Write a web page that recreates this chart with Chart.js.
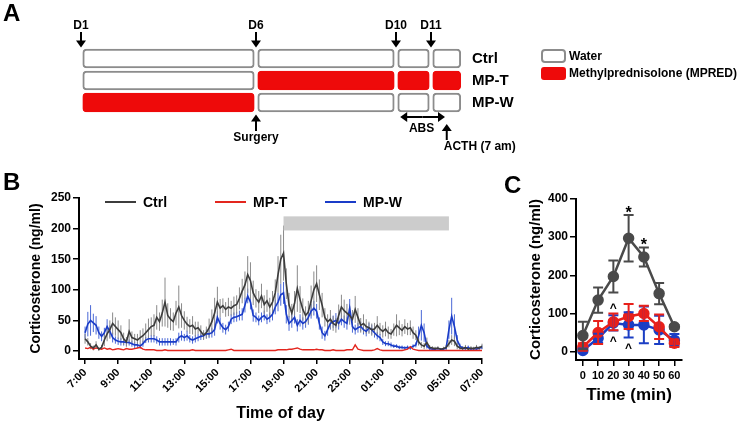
<!DOCTYPE html>
<html>
<head>
<meta charset="utf-8">
<script src="https://cdn.jsdelivr.net/npm/chart.js@4.4.0/dist/chart.umd.min.js"></script>
<style>
body { margin: 0; background: #fff; }
#page { position: relative; width: 738px; height: 423px; font-family: "Liberation Sans", Arial, sans-serif; overflow: hidden; }
.box { position: absolute; }
.letter { position: absolute; font-weight: bold; font-size: 24px; line-height: 24px; color: #000; }
</style>
</head>
<body>
<div id="page">
  <div class="box" style="left:0;top:0;width:738px;height:160px"><canvas id="chartA"></canvas></div>
  <div class="box" style="left:0;top:160px;width:520px;height:263px"><canvas id="chartB"></canvas></div>
  <div class="box" style="left:520px;top:160px;width:218px;height:263px"><canvas id="chartC"></canvas></div>
  <div class="letter" style="left:3px;top:1px">A</div>
  <div class="letter" style="left:3px;top:170px">B</div>
  <div class="letter" style="left:504px;top:173px">C</div>
</div>
<script>
// ---------- panel A : treatment schedule ----------
const groups = ['Ctrl', 'MP-T', 'MP-W'];
const dayMarks = [1, 6, 10, 11];
const dayLabels = ['D1', 'D6', 'D10', 'D11'];
const segStart = [1, 6, 10, 11];
const segEnd = [6, 10, 11, 11.9];
// W = water, M = methylprednisolone, one entry per segment
const ctrlPlan = ['W', 'W', 'W', 'W'];
const mptPlan = ['W', 'M', 'M', 'M'];
const mpwPlan = ['M', 'W', 'W', 'W'];
const surgeryDay = 6;
const absFrom = 10.12, absTo = 11.4;
const acthDay = 11.45;

// ---------- panel B : 24 h corticosterone, one sample every 10 min from 7:00 ----------
const sampleStep = 10;
const timeTicks = [0, 120, 240, 360, 480, 600, 720, 840, 960, 1080, 1200, 1320, 1440];
const timeLabels = ['7:00', '9:00', '11:00', '13:00', '15:00', '17:00', '19:00',
  '21:00', '23:00', '01:00', '03:00', '05:00', '07:00'];
const yTicksB = [0, 50, 100, 150, 200, 250];
const nightStart = 720, nightEnd = 1320;

const ctrlB = [
  20, 15, 8, 5, 10, 3, 6, 18, 28, 35, 45, 40,
  35, 30, 20, 15, 32, 22, 20, 18, 22, 25, 30, 35,
  40, 42, 55, 48, 62, 80, 58, 52, 48, 62, 72, 58,
  50, 44, 40, 42, 36, 38, 32, 26, 30, 38, 48, 62,
  80, 70, 74, 68, 72, 70, 74, 76, 86, 98, 108, 125,
  115, 95, 86, 80, 90, 76, 82, 72, 80, 95, 125, 150,
  160, 110, 75, 62, 78, 102, 84, 68, 58, 64, 82, 100,
  110, 92, 75, 55, 48, 52, 45, 42, 58, 72, 66, 62,
  58, 52, 68, 55, 42, 45, 40, 38, 35, 36, 42, 36,
  32, 36, 30, 28, 35, 42, 38, 34, 40, 36, 38, 30,
  26, 15, 10, 8, 14, 6, 5, 4, 5, 3, 4, 6,
  12, 18, 16, 8, 5, 4, 6, 3, 5, 4, 6, 5,
  8
];
const ctrlErrB = [
  8, 6, 5, 4, 6, 3, 4, 10, 12, 15, 18, 15,
  15, 12, 10, 8, 20, 10, 8, 10, 12, 12, 15, 18,
  15, 18, 20, 15, 22, 40, 20, 18, 15, 20, 35, 20,
  15, 12, 12, 15, 12, 10, 10, 8, 10, 15, 20, 25,
  25, 15, 12, 12, 15, 12, 15, 15, 18, 20, 22, 30,
  30, 20, 15, 18, 20, 15, 18, 15, 18, 22, 30, 40,
  45, 25, 20, 15, 20, 38, 22, 18, 15, 18, 25, 30,
  30, 25, 20, 15, 12, 15, 12, 12, 18, 20, 18, 15,
  15, 15, 22, 15, 12, 15, 12, 10, 10, 10, 15, 10,
  10, 12, 10, 8, 10, 18, 12, 10, 12, 10, 12, 10,
  8, 6, 5, 5, 8, 4, 3, 3, 3, 2, 3, 4,
  6, 8, 8, 5, 3, 3, 4, 2, 3, 3, 4, 3,
  4
];
const mptB = [
  5, 4, 6, 3, 5, 4, 3, 5, 3, 4, 2, 3,
  4, 3, 2, 4, 3, 3, 4, 5, 6, 3, 2, 2,
  2, 2, 1, 1, 1, 2, 1, 1, 1, 1, 1, 1,
  1, 1, 1, 2, 1, 1, 1, 1, 1, 1, 1, 1,
  1, 1, 1, 1, 2, 3, 1, 1, 1, 1, 1, 1,
  1, 1, 1, 1, 1, 1, 1, 1, 1, 1, 2, 2,
  2, 2, 3, 3, 4, 5, 3, 2, 2, 2, 2, 2,
  3, 2, 2, 1, 1, 1, 2, 1, 1, 1, 1, 2,
  2, 2, 10, 3, 2, 1, 1, 1, 1, 2, 4, 2,
  1, 1, 1, 1, 1, 1, 1, 1, 2, 3, 7, 3,
  2, 1, 1, 1, 1, 1, 1, 1, 1, 1, 1, 1,
  1, 1, 1, 1, 1, 1, 1, 1, 1, 1, 1, 1,
  1
];
const mpwB = [
  30, 44, 50, 46, 42, 30, 24, 30, 40, 32, 22, 18,
  16, 15, 15, 14, 14, 12, 10, 10, 8, 12, 18, 20,
  20, 20, 18, 15, 15, 15, 15, 15, 15, 15, 22, 25,
  22, 25, 20, 18, 20, 22, 24, 25, 28, 28, 30, 35,
  55, 45, 38, 35, 40, 52, 55, 56, 58, 60, 75, 90,
  80, 58, 55, 50, 55, 58, 52, 55, 60, 72, 80, 92,
  95, 60, 45, 50, 55, 42, 50, 45, 48, 55, 65, 70,
  65, 45, 30, 25, 35, 45, 48, 50, 45, 52, 48, 45,
  70, 40, 35, 38, 40, 35, 32, 38, 35, 30, 25, 22,
  15, 12, 12, 10, 8, 8, 6, 6, 5, 6, 5, 8,
  10, 25, 42, 30, 8, 4, 3, 3, 4, 3, 3, 5,
  35, 57, 40, 18, 8, 5, 4, 6, 3, 4, 3, 5,
  6
];
const mpwErrB = [
  10, 20, 25, 15, 15, 10, 8, 8, 12, 10, 8, 6,
  6, 6, 6, 6, 5, 5, 5, 5, 4, 5, 5, 6,
  6, 6, 6, 6, 6, 6, 6, 6, 5, 6, 8, 8,
  6, 8, 6, 6, 6, 6, 6, 6, 7, 7, 8, 10,
  10, 10, 8, 8, 8, 8, 8, 8, 8, 10, 12, 12,
  12, 10, 8, 8, 8, 8, 8, 8, 10, 12, 15, 18,
  18, 15, 12, 12, 10, 10, 10, 10, 10, 12, 12, 12,
  12, 10, 10, 8, 10, 10, 10, 12, 10, 10, 10, 10,
  15, 10, 8, 8, 8, 8, 8, 8, 8, 8, 6, 6,
  5, 4, 4, 4, 3, 3, 3, 3, 3, 3, 3, 3,
  4, 15, 25, 15, 4, 2, 2, 2, 2, 2, 2, 3,
  15, 30, 20, 8, 4, 3, 2, 3, 2, 2, 2, 3,
  3
];

// ---------- panel C : ACTH test ----------
const minutesC = [0, 10, 20, 30, 40, 50, 60];
const yTicksC = [0, 100, 200, 300, 400];
const ctrlC = [42, 135, 197, 297, 248, 152, 65];
const ctrlErrC = [36, 33, 42, 61, 25, 28, 5];
const mptC = [12, 50, 78, 92, 100, 65, 22];
const mptErrC = [10, 30, 22, 33, 20, 32, 10];
const mpwC = [3, 35, 75, 70, 70, 57, 30];
const mpwErrC = [5, 12, 20, 33, 48, 37, 16];
const starMarks = [[30, 370], [40, 286]];
const caretMarks = [[20, 118], [20, 31], [30, 13]];

const RED = '#e8201a', BLUE = '#1b3ec4';
const FONT = '"Liberation Sans", Arial, sans-serif';
const bold = size => ({ family: FONT, size: size, weight: 'bold' });

Chart.defaults.font.family = FONT;
Chart.defaults.color = '#000';

function arrowHead(ctx, x, y, dx, dy) {
  // small filled triangle pointing along (dx, dy)
  const s = 5;
  ctx.beginPath();
  ctx.moveTo(x, y);
  ctx.lineTo(x - dx * s * 1.4 - dy * s, y - dy * s * 1.4 - dx * s);
  ctx.lineTo(x - dx * s * 1.4 + dy * s, y - dy * s * 1.4 + dx * s);
  ctx.closePath();
  ctx.fill();
}
function arrow(ctx, x1, y1, x2, y2) {
  const len = Math.hypot(x2 - x1, y2 - y1);
  const dx = (x2 - x1) / len, dy = (y2 - y1) / len;
  ctx.beginPath();
  ctx.moveTo(x1, y1);
  ctx.lineTo(x2 - dx * 5, y2 - dy * 5);
  ctx.stroke();
  arrowHead(ctx, x2, y2, dx, dy);
}
function roundBox(ctx, x, y, w, h, r) {
  ctx.beginPath();
  ctx.roundRect(x, y, w, h, r);
}

// ---------- chart A ----------
const plans = [ctrlPlan, mptPlan, mpwPlan];
const gapDays = 0.05;
const schedSets = segStart.map((s, k) => ({
  label: 'segment ' + (k + 1),
  data: groups.map(() => [s + gapDays, segEnd[k] - gapDays]),
  backgroundColor: plans.map(p => p[k] === 'M' ? '#ee0a0a' : '#ffffff'),
  borderColor: plans.map(p => p[k] === 'M' ? '#ee0a0a' : '#8c8c8c'),
  borderWidth: 2,
  borderRadius: 4,
  borderSkipped: false,
  barThickness: 19,
  grouped: false
}));

const annotateA = {
  id: 'annotateA',
  afterDraw(chart) {
    const { ctx, chartArea } = chart;
    const x = chart.scales.x;
    ctx.save();
    ctx.strokeStyle = '#000';
    ctx.fillStyle = '#000';
    ctx.lineWidth = 2;
    dayMarks.forEach(d => arrow(ctx, x.getPixelForValue(d), 32, x.getPixelForValue(d), chartArea.top));
    // surgery
    const xs = x.getPixelForValue(surgeryDay);
    arrow(ctx, xs, 131, xs, chartArea.bottom + 1);
    ctx.font = 'bold 12px ' + FONT;
    ctx.textAlign = 'center';
    ctx.textBaseline = 'middle';
    ctx.fillText('Surgery', xs, 138);
    // ABS double arrow
    const xa = x.getPixelForValue(absFrom), xb = x.getPixelForValue(absTo);
    const xm = (xa + xb) / 2;
    arrow(ctx, xm, 117, xa, 117);
    arrow(ctx, xm, 117, xb, 117);
    ctx.fillText('ABS', xm - 1, 129);
    // ACTH
    const xt = x.getPixelForValue(acthDay);
    arrow(ctx, xt, 140, xt, 124);
    ctx.textAlign = 'left';
    ctx.fillText('ACTH (7 am)', xt - 3, 147);
    // legend
    ctx.lineWidth = 2;
    ctx.strokeStyle = '#8c8c8c';
    ctx.fillStyle = '#fff';
    roundBox(ctx, 542, 50, 23, 12, 3);
    ctx.fill();
    ctx.stroke();
    ctx.fillStyle = '#ee0a0a';
    roundBox(ctx, 541, 67, 25, 13, 3);
    ctx.fill();
    ctx.fillStyle = '#000';
    ctx.fillText('Water', 569, 56.5);
    ctx.fillText('Methylprednisolone (MPRED)', 569, 73.5);
    ctx.restore();
  }
};

new Chart(document.getElementById('chartA'), {
  type: 'bar',
  data: { labels: groups, datasets: schedSets },
  options: {
    indexAxis: 'y',
    responsive: true,
    maintainAspectRatio: false,
    animation: false,
    devicePixelRatio: 1,
    layout: { padding: { left: 60, top: 0, right: 0, bottom: 46.5 } },
    plugins: { legend: { display: false }, tooltip: { enabled: false } },
    scales: {
      x: {
        type: 'linear',
        position: 'top',
        min: 0.4,
        max: 12.0,
        grid: { display: false, drawTicks: false },
        border: { display: false },
        afterBuildTicks: s => { s.ticks = dayMarks.map(v => ({ value: v })); },
        afterFit: s => { s.height = 47.5; },
        ticks: { font: bold(12), color: '#000', padding: 15, callback: (v, i) => dayLabels[i] }
      },
      y: {
        position: 'right',
        grid: { display: false, drawTicks: false },
        border: { display: false },
        afterFit: s => { s.width = 272; },
        ticks: { font: bold(15), color: '#000', padding: 6 }
      }
    }
  },
  plugins: [annotateA]
});

// ---------- shared error bar plugin ----------
function drawErrors(chart, o) {
  const { ctx } = chart;
  const y = chart.scales.y;
  ctx.save();
  ctx.lineWidth = o.width;
  for (let i = chart.data.datasets.length - 1; i >= 0; i--) {
    const ds = chart.data.datasets[i];
    if (!ds.errors) continue;
    const meta = chart.getDatasetMeta(i);
    ctx.strokeStyle = ds.errorColor || ds.borderColor;
    meta.data.forEach((pt, j) => {
      const e = ds.errors[j];
      if (!e) return;
      const v = ds.data[j].y;
      const top = y.getPixelForValue(v + e);
      const bot = y.getPixelForValue(v - e);
      ctx.beginPath();
      ctx.moveTo(pt.x, top);
      ctx.lineTo(pt.x, bot);
      if (o.cap) {
        ctx.moveTo(pt.x - o.cap, top);
        ctx.lineTo(pt.x + o.cap, top);
        ctx.moveTo(pt.x - o.cap, bot);
        ctx.lineTo(pt.x + o.cap, bot);
      }
      ctx.stroke();
    });
  }
  ctx.restore();
}
const errorBars = {
  id: 'errorBars',
  beforeDatasetsDraw(chart, args, o) { if (o.behind) drawErrors(chart, o); },
  afterDatasetsDraw(chart, args, o) { if (!o.behind) drawErrors(chart, o); }
};

// ---------- chart B ----------
const toPoints = arr => arr.map((v, i) => ({ x: i * sampleStep, y: v }));

const extrasB = {
  id: 'extrasB',
  beforeDatasetsDraw(chart) {
    const { ctx } = chart;
    const { x, y } = chart.scales;
    ctx.save();
    ctx.fillStyle = '#cccccc';
    const x0 = x.getPixelForValue(nightStart), x1 = x.getPixelForValue(nightEnd);
    const y0 = y.getPixelForValue(220), y1 = y.getPixelForValue(197);
    ctx.fillRect(x0, y0, x1 - x0, y1 - y0);
    ctx.restore();
  },
  afterDraw(chart) {
    const { ctx } = chart;
    const legendX = [105, 215, 325];
    const legendY = 42;
    ctx.save();
    ctx.font = 'bold 14px ' + FONT;
    ctx.textBaseline = 'middle';
    chart.data.datasets.forEach((ds, i) => {
      ctx.strokeStyle = ds.borderColor;
      ctx.lineWidth = 2;
      ctx.beginPath();
      ctx.moveTo(legendX[i], legendY);
      ctx.lineTo(legendX[i] + 31, legendY);
      ctx.stroke();
      ctx.fillStyle = '#000';
      ctx.fillText(ds.label, legendX[i] + 38, legendY + 1);
    });
    ctx.restore();
  }
};

const axisGrid = len => ({ display: true, drawOnChartArea: false, drawTicks: true, tickLength: len, color: '#000', lineWidth: 1.5 });
const axisBorder = { display: true, color: '#000', width: 2 };

new Chart(document.getElementById('chartB'), {
  type: 'line',
  data: {
    datasets: [
      { label: 'Ctrl', data: toPoints(ctrlB), errors: ctrlErrB, borderColor: '#3c3c3c', errorColor: '#8a8a8a', borderWidth: 1.6 },
      { label: 'MP-T', data: toPoints(mptB), borderColor: '#e3261e', borderWidth: 1.4 },
      { label: 'MP-W', data: toPoints(mpwB), errors: mpwErrB, borderColor: '#1a3cc8', errorColor: '#4a68d6', borderWidth: 1.6 }
    ]
  },
  options: {
    responsive: true,
    maintainAspectRatio: false,
    animation: false,
    devicePixelRatio: 1,
    elements: { point: { radius: 0 }, line: { tension: 0 } },
    layout: { padding: { left: 28, top: 38, right: 38, bottom: 0 } },
    plugins: {
      legend: { display: false },
      tooltip: { enabled: false },
      errorBars: { behind: true, width: 1 }
    },
    scales: {
      x: {
        type: 'linear',
        min: -22,
        max: 1440,
        grid: axisGrid(5),
        border: axisBorder,
        afterBuildTicks: s => { s.ticks = timeTicks.map(v => ({ value: v })); },
        afterFit: s => { s.height = 64; },
        ticks: { font: bold(11), color: '#000', padding: 2, minRotation: 45, maxRotation: 45, autoSkip: false, callback: (v, i) => timeLabels[i] },
        title: { display: true, text: 'Time of day', font: bold(16), color: '#000', padding: 0 }
      },
      y: {
        min: -13,
        max: 250,
        grid: axisGrid(6),
        border: axisBorder,
        afterBuildTicks: s => { s.ticks = yTicksB.map(v => ({ value: v })); },
        afterFit: s => { s.width = 51; },
        ticks: { font: bold(12), color: '#000', padding: 2 },
        title: { display: true, text: 'Corticosterone (ng/ml)', font: bold(14), color: '#000', padding: 0 }
      }
    }
  },
  plugins: [errorBars, extrasB]
});

// ---------- chart C ----------
const toPointsC = arr => arr.map((v, i) => ({ x: minutesC[i], y: v }));
const marksC = {
  id: 'marksC',
  afterDraw(chart) {
    const { ctx } = chart;
    const { x, y } = chart.scales;
    ctx.save();
    ctx.fillStyle = '#000';
    ctx.textAlign = 'center';
    ctx.textBaseline = 'middle';
    ctx.font = 'bold 16px ' + FONT;
    starMarks.forEach(([m, v]) => ctx.fillText('*', x.getPixelForValue(m), y.getPixelForValue(v) + 3));
    ctx.font = 'bold 12px ' + FONT;
    caretMarks.forEach(([m, v]) => ctx.fillText('^', x.getPixelForValue(m), y.getPixelForValue(v) + 2));
    ctx.restore();
  }
};

const lineC = (label, data, errs, color) => ({
  label: label,
  data: toPointsC(data),
  errors: errs,
  borderColor: color,
  backgroundColor: color,
  pointBackgroundColor: color,
  pointBorderColor: color,
  pointRadius: 4.5,
  borderWidth: 2.5
});

new Chart(document.getElementById('chartC'), {
  type: 'line',
  data: {
    datasets: [
      lineC('Ctrl', ctrlC, ctrlErrC, '#4a4a4a'),
      lineC('MP-T', mptC, mptErrC, RED),
      lineC('MP-W', mpwC, mpwErrC, BLUE)
    ]
  },
  options: {
    responsive: true,
    maintainAspectRatio: false,
    animation: false,
    devicePixelRatio: 1,
    elements: { line: { tension: 0 } },
    layout: { padding: { left: 7, top: 39, right: 56, bottom: 0 } },
    plugins: {
      legend: { display: false },
      tooltip: { enabled: false },
      errorBars: { behind: false, width: 2, cap: 5 }
    },
    scales: {
      x: {
        type: 'linear',
        min: -4.5,
        max: 65,
        grid: axisGrid(6),
        border: axisBorder,
        afterBuildTicks: s => { s.ticks = minutesC.map(v => ({ value: v })); },
        afterFit: s => { s.height = 63; },
        ticks: { font: bold(11), color: '#000', padding: 3, maxRotation: 0, autoSkip: false },
        title: { display: true, text: 'Time (min)', font: bold(17), color: '#000', padding: { top: 0, bottom: 17 } }
      },
      y: {
        min: -22,
        max: 400,
        grid: axisGrid(6),
        border: axisBorder,
        afterBuildTicks: s => { s.ticks = yTicksC.map(v => ({ value: v })); },
        afterFit: s => { s.width = 49; },
        ticks: { font: bold(12), color: '#000', padding: 2 },
        title: { display: true, text: 'Corticosterone (ng/ml)', font: bold(15), color: '#000', padding: 0 }
      }
    }
  },
  plugins: [errorBars, marksC]
});
</script>
</body>
</html>
